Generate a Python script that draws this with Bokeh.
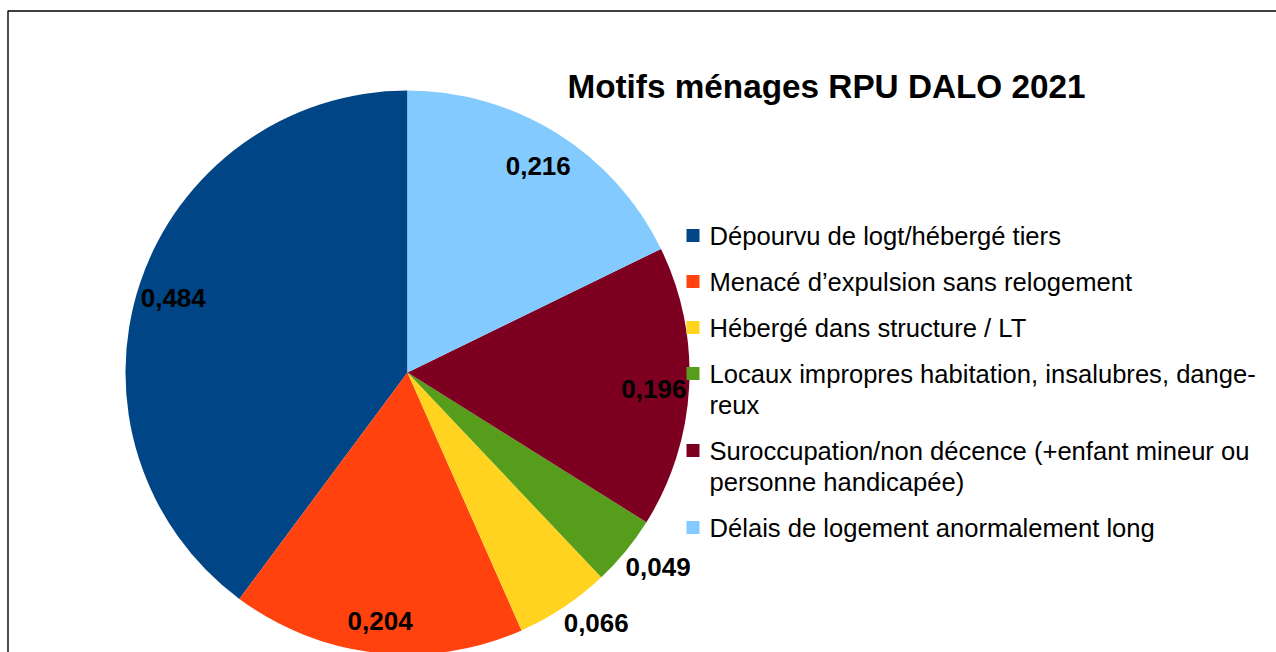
import numpy as np
from bokeh.plotting import figure
from bokeh.models import ColumnDataSource, Range1d, Label, BoxAnnotation
from bokeh.core.properties import value
from bokeh.embed import file_html
from bokeh.resources import INLINE

title = "Motifs ménages RPU DALO 2021"
categories = [
    "Dépourvu de logt/hébergé tiers",
    "Menacé d’expulsion sans relogement",
    "Hébergé dans structure / LT",
    "Locaux impropres habitation, insalubres, dange-\nreux",
    "Suroccupation/non décence (+enfant mineur ou\npersonne handicapée)",
    "Délais de logement anormalement long",
]
values = [0.484, 0.204, 0.066, 0.049, 0.196, 0.216]
value_labels = ["0,484", "0,204", "0,066", "0,049", "0,196", "0,216"]
colors = ["#004586", "#ff420e", "#ffd320", "#579d1c", "#7e0021", "#83caff"]

FONT = "Liberation Sans"
W, H = 1276, 652


def py(page_y):
    return H - page_y


p = figure(width=W, height=H, output_backend="svg", toolbar_location=None,
           x_range=Range1d(0, W), y_range=Range1d(0, H),
           x_axis_type=None, y_axis_type=None, min_border=0,
           outline_line_color=None, background_fill_color="white",
           border_fill_color="white")
p.grid.visible = False

# frame (open to the right and bottom, as in the cropped original)
p.add_layout(BoxAnnotation(left=7.5, right=W + 50, top=py(10.5), bottom=-50,
                           fill_alpha=0, line_color="black", line_alpha=1.0,
                           line_width=1.4))

# pie
cx, cy, R = 407, py(372), 282
vals = np.array(values, dtype=float)
frac = vals / vals.sum()
ends = np.pi / 2 + 2 * np.pi * np.cumsum(frac)
starts = ends - 2 * np.pi * frac
src = ColumnDataSource(dict(start=starts, end=ends, color=colors, cat=categories))
p.wedge(x=cx, y=cy, radius=R, start_angle="start", end_angle="end",
        fill_color="color", line_color=None, source=src)

# value labels
mid = (starts + ends) / 2
inside = frac >= 0.1
in_src = ColumnDataSource(dict(
    x=cx + 0.875 * R * np.cos(mid[inside]),
    y=cy + 0.875 * R * np.sin(mid[inside]) - 3,
    t=[l for l, k in zip(value_labels, inside) if k]))
out_src = ColumnDataSource(dict(
    x=cx + R * np.cos(mid[~inside]),
    y=cy + R * np.sin(mid[~inside]) - 16,
    t=[l for l, k in zip(value_labels, inside) if not k]))
for s, al in ((in_src, "center"), (out_src, "left")):
    p.text(x="x", y="y", text="t", source=s, text_align=al,
           text_baseline="middle", text_font=value(FONT),
           text_font_style="bold", text_font_size="26px", text_color="black")

# title
p.add_layout(Label(x=826, y=py(86), text=title, text_align="center",
                   text_baseline="alphabetic", text_font=FONT,
                   text_font_style="bold", text_font_size="33.3px",
                   text_color="black"))

# legend (manual)
sq_x, sq_y, tx, ty, tt = [], [], [], [], []
extra = 0
for i, cat in enumerate(categories):
    lines = cat.split("\n")
    y0 = 235 + 46 * i + 31 * extra
    sq_x.append(692.5)
    sq_y.append(py(y0))
    for j, ln in enumerate(lines):
        tx.append(709)
        ty.append(py(y0 + 31 * j))
        tt.append(ln)
    extra += len(lines) - 1
p.rect(x=sq_x, y=sq_y, width=13, height=13, fill_color=colors, line_color=None)
p.text(x=tx, y=ty, text=tt, text_align="left", text_baseline="middle",
       text_font=value(FONT), text_font_size="25.6px", text_color="black")

open("out.html", "w").write(file_html(p, INLINE))
